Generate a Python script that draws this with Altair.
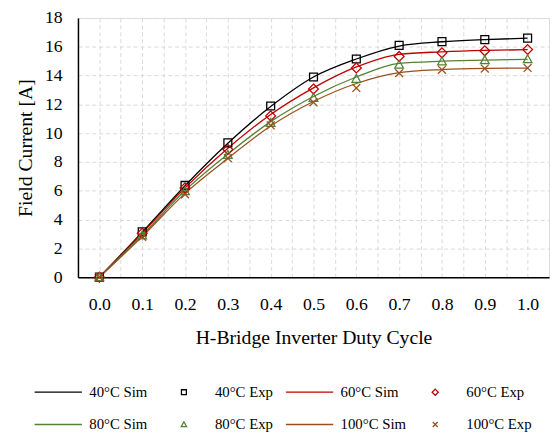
import altair as alt
import pandas as pd

duty = [0.0, 0.1, 0.2, 0.3, 0.4, 0.5, 0.6, 0.7, 0.8, 0.9, 1.0]
sim40 = [0, 3.12, 6.35, 9.30, 11.85, 13.90, 15.15, 16.05, 16.35, 16.50, 16.60]
exp40 = [0, 3.15, 6.37, 9.33, 11.89, 13.90, 15.15, 16.10, 16.36, 16.50, 16.60]
sim60 = [0, 3.05, 6.20, 8.95, 11.30, 13.15, 14.60, 15.48, 15.65, 15.75, 15.80]
exp60 = [0, 3.05, 6.20, 8.87, 11.20, 13.07, 14.53, 15.33, 15.58, 15.72, 15.81]
sim80 = [0, 2.92, 6.02, 8.55, 10.80, 12.55, 13.90, 14.85, 15.00, 15.08, 15.12]
exp80 = [0, 2.90, 5.98, 8.50, 10.72, 12.46, 13.78, 14.76, 14.99, 15.08, 15.15]
sim100 = [0, 2.82, 5.82, 8.25, 10.50, 12.20, 13.45, 14.20, 14.42, 14.50, 14.52]
exp100 = [0, 2.80, 5.75, 8.26, 10.54, 12.14, 13.14, 14.17, 14.40, 14.49, 14.53]

labels = ["40°C Sim", "40°C Exp", "60°C Sim", "60°C Exp",
          "80°C Sim", "80°C Exp", "100°C Sim", "100°C Exp"]
colors = ["#000000", "#000000", "#C00000", "#C00000",
          "#548235", "#548235", "#9C4F1E", "#9C4F1E"]
shapes = ["M-9.6,0H9.6", "M-1,-1H1V1H-1Z",
          "M-9.6,0H9.6", "M0,-1.25L1.25,0L0,1.25L-1.25,0Z",
          "M-9.6,0H9.6", "M0,-1.1L1.1,0.9H-1.1Z",
          "M-9.6,0H9.6", "M-1,-1L1,1M1,-1L-1,1"]

x_ticks = [-0.05, 0.0, 0.05, 0.1, 0.15, 0.2, 0.25, 0.3, 0.35, 0.4, 0.45, 0.5,
           0.55, 0.6, 0.65, 0.7, 0.75, 0.8, 0.85, 0.9, 0.95, 1.0, 1.05]
y_ticks = [0, 2, 4, 6, 8, 10, 12, 14, 16, 18]

series = [("40°C Sim", "Sim", sim40), ("40°C Exp", "Exp", exp40),
          ("60°C Sim", "Sim", sim60), ("60°C Exp", "Exp", exp60),
          ("80°C Sim", "Sim", sim80), ("80°C Exp", "Exp", exp80),
          ("100°C Sim", "Sim", sim100), ("100°C Exp", "Exp", exp100)]
rows = []
for lab, kind, vals in series:
    for d, v in zip(duty, vals):
        rows.append({"duty": d, "current": v, "label": lab, "kind": kind})
df = pd.DataFrame(rows)

FONT = "Liberation Serif"

x_enc = alt.X("duty:Q", scale=alt.Scale(domain=[-0.05, 1.05], nice=False, zero=False),
              axis=alt.Axis(values=x_ticks, title="H-Bridge Inverter Duty Cycle",
                            labelExpr="(datum.value > -0.001 && datum.value < 1.001 && abs(datum.value*10 - round(datum.value*10)) < 0.01) ? format(datum.value, '.1f') : ''",
                            labelFont=FONT, labelFontSize=18, labelColor="#000000",
                            titleFont=FONT, titleFontSize=20, titleFontWeight="normal",
                            titleColor="#000000", titlePadding=14,
                            ticks=False, tickSize=0, labelPadding=19,
                            domainColor="#000000", domainWidth=1.5,
                            grid=True, gridColor="#d9d9d9", gridDash=[4, 3], gridWidth=1,
                            labelFlush=False, labelOverlap=False))
y_enc = alt.Y("current:Q", scale=alt.Scale(domain=[0, 18], nice=False),
              axis=alt.Axis(values=y_ticks, title="Field Current [A]",
                            labelFont=FONT, labelFontSize=18, labelColor="#000000",
                            titleFont=FONT, titleFontSize=20, titleFontWeight="normal",
                            titleColor="#000000", titlePadding=9,
                            ticks=False, tickSize=0, labelPadding=16,
                            domainColor="#000000", domainWidth=1.5,
                            grid=True, gridColor="#d9d9d9", gridDash=[4, 3], gridWidth=1,
                            labelFlush=False))

leg = alt.Legend(title=None, orient="none", legendX=-48, legendY=372,
                 values=labels, direction="horizontal",
                 columns=4, gridAlign="all", columnPadding=1.5, rowPadding=17,
                 symbolSize=25, symbolStrokeWidth=1.3, symbolOffset=20.5,
                 labelOffset=24, labelFont=FONT, labelFontSize=15,
                 labelColor="#000000", padding=0, symbolFillColor="transparent")

color_scale = alt.Scale(domain=labels, range=colors)
shape_scale = alt.Scale(domain=labels, range=shapes)

lines = alt.Chart(df).transform_filter(alt.datum.kind == "Sim").mark_line(
    strokeWidth=1.3, interpolate="monotone"
).encode(
    x=x_enc, y=y_enc,
    color=alt.Color("label:N", scale=color_scale, legend=leg),
    detail="label:N",
)

points = alt.Chart(df).transform_filter(alt.datum.kind == "Exp").mark_point(
    filled=False, size=64, strokeWidth=1.3, opacity=1
).encode(
    x=x_enc, y=y_enc,
    color=alt.Color("label:N", scale=color_scale, legend=leg),
    shape=alt.Shape("label:N", scale=shape_scale, legend=leg),
)

chart = alt.layer(lines, points).properties(
    width=478, height=263,
    autosize=alt.AutoSizeParams(type="none"),
    padding={"left": 71, "top": 7, "right": 2, "bottom": 155},
).configure_view(
    stroke="#7f7f7f", strokeWidth=1.5
).configure(background="#ffffff")

chart.save("out.html", embed_options={"renderer": "svg", "actions": False})
